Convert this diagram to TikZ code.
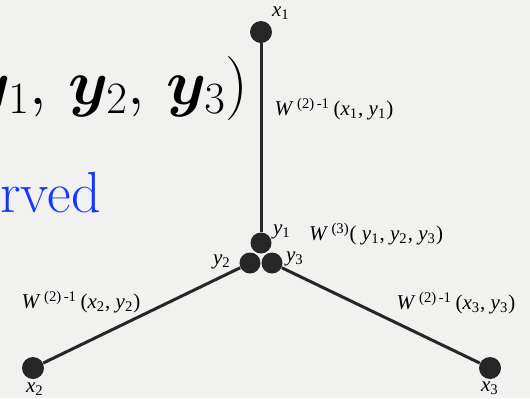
\RequirePackage{fix-cm}
\documentclass[tikz,border=0pt]{standalone}
\usepackage{bm}
\usepackage{fontspec}
\usepackage{tikz}
\usetikzlibrary{calc, positioning}

\newfontfamily\labelfont{Liberation Serif}[ItalicFont={Liberation Serif Italic}]
\definecolor{paper}{RGB}{241,241,240}
\definecolor{dotgray}{RGB}{38,38,38}
\definecolor{slideblue}{RGB}{20,55,255}

\newcommand{\sub}[1]{\textsubscript{\upshape #1}}
\newcommand{\wfun}[2]{\textit{W}\,\textsuperscript{\upshape #1}\,(#2)}

\tikzset{
  dot/.style={circle, fill=dotgray, inner sep=0pt, minimum size=11pt},
  edge/.style={draw=dotgray, line width=1.5pt},
  lab/.style={inner sep=0pt, font=\labelfont\fontsize{10.5}{12}\selectfont}
}

\begin{document}
\begin{tikzpicture}[x=0.5pt, y=-0.5pt]
  % paper background
  \clip (0,0) rectangle (530,398);
  \fill[paper] (0,0) rectangle (530,398);

  % leftover slide text
  \node[anchor=base east, inner sep=0pt, font=\fontsize{32}{34}\selectfont]
    (vars) at (249,104) {$\bm{y}_1,\, \bm{y}_2,\, \bm{y}_3)$};
  \node[anchor=base west, inner sep=0pt, text=slideblue, font=\fontsize{29}{31}\selectfont]
    (word) at (0,212) {rved};

  % outer points
  \node[dot] (x1) at (261,32) {};
  \node[dot] (x2) at (33,368) {};
  \node[dot] (x3) at (490,368) {};

  % inner vertex
  \node[dot, minimum size=10.5pt] (y1) at (261,243) {};
  \node[dot, minimum size=10.5pt] (y2) at (250,263) {};
  \node[dot, minimum size=10.5pt] (y3) at (272,263) {};

  % legs
  \draw[edge] (x1) -- (y1);
  \draw[edge] (x2) -- (y2);
  \draw[edge] (x3) -- (y3);

  % point labels
  \node[lab] (lx1) at (281,13) {\textit{x}\sub{1}};
  \node[lab] (lx2) at (35,389) {\textit{x}\sub{2}};
  \node[lab] (lx3) at (490,388) {\textit{x}\sub{3}};
  \node[lab] (ly1) at (282,232) {\textit{y}\sub{1}};
  \node[lab] (ly2) at (222,262) {\textit{y}\sub{2}};
  \node[lab] (ly3) at (295,259) {\textit{y}\sub{3}};

  % weights
  \node[lab] (w1) at (334,109) {\wfun{(2)\,-1}{\textit{x}\sub{1}, \textit{y}\sub{1}}};
  \node[lab] (w2) at (81,302) {\wfun{(2)\,-1}{\textit{x}\sub{2}, \textit{y}\sub{2}}};
  \node[lab] (w3) at (456,303) {\wfun{(2)\,-1}{\textit{x}\sub{3}, \textit{y}\sub{3}}};
  \node[lab] (w0) at (376,234) {\textit{W}\,\textsuperscript{(3)}( \textit{y}\sub{1}, \textit{y}\sub{2}, \textit{y}\sub{3})};
\end{tikzpicture}
\end{document}
